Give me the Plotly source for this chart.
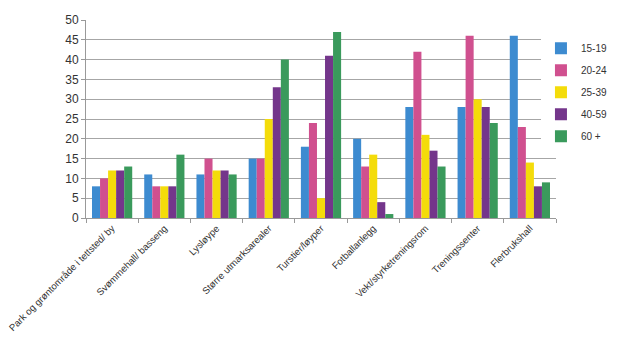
import plotly.graph_objects as go

categories = ["Park og grøntområde i tettsted/ by", "Svømmehall/ basseng", "Lysløype",
              "Større utmarksarealer", "Turstier/løyper", "Fotballanlegg",
              "Vekt/styrketreningsrom", "Treningssenter", "Flerbrukshall"]
series_names = ["15-19", "20-24", "25-39", "40-59", "60 +"]
v_15_19 = [8, 11, 11, 15, 18, 20, 28, 28, 46]
v_20_24 = [10, 8, 15, 15, 24, 13, 42, 46, 23]
v_25_39 = [12, 8, 12, 25, 5, 16, 21, 30, 14]
v_40_59 = [12, 8, 12, 33, 41, 4, 17, 28, 8]
v_60 = [13, 16, 11, 40, 47, 1, 13, 24, 9]
y_ticks = list(range(0, 55, 5))

colors = ["#3d8bd0", "#d0508f", "#f4dc0a", "#74368b", "#3a9a5c"]
values = [v_15_19, v_20_24, v_25_39, v_40_59, v_60]

fig = go.Figure()
for name, vals, c in zip(series_names, values, colors):
    fig.add_trace(go.Bar(x=categories, y=vals, name=name, legendgroup=name,
                         marker=dict(color=c, line=dict(width=0))))

fig.update_layout(
    width=628, height=348,
    margin=dict(l=78, r=80, t=12, b=138, autoexpand=False),
    paper_bgcolor="white", plot_bgcolor="white",
    barmode="group", bargap=0.23, bargroupgap=0,
    font=dict(family="Liberation Sans, Arial, sans-serif", size=11, color="#333333"),
    legend=dict(x=0.968, y=0.93, xanchor="left", yanchor="top",
                font=dict(size=10, color="#333333"), itemwidth=30,
                tracegroupgap=3, traceorder="grouped"),
    showlegend=True,
)
fig.update_xaxes(type="category", tickangle=-45, tickson="boundaries",
                 ticks="outside", ticklen=4, tickcolor="#999999", automargin=False,
                 showline=True, linecolor="#999999", linewidth=1,
                 showgrid=False, tickfont=dict(size=9.6, color="#333333"))
fig.update_yaxes(range=[0, 50], tickvals=y_ticks, ticks="outside", ticklen=4,
                 tickcolor="#999999", showline=True, linecolor="#999999", automargin=False,
                 showgrid=True, gridcolor="#a6a6a6", gridwidth=1,
                 zeroline=False, tickfont=dict(size=12, color="#333333"))

fig.write_html("out.html")
